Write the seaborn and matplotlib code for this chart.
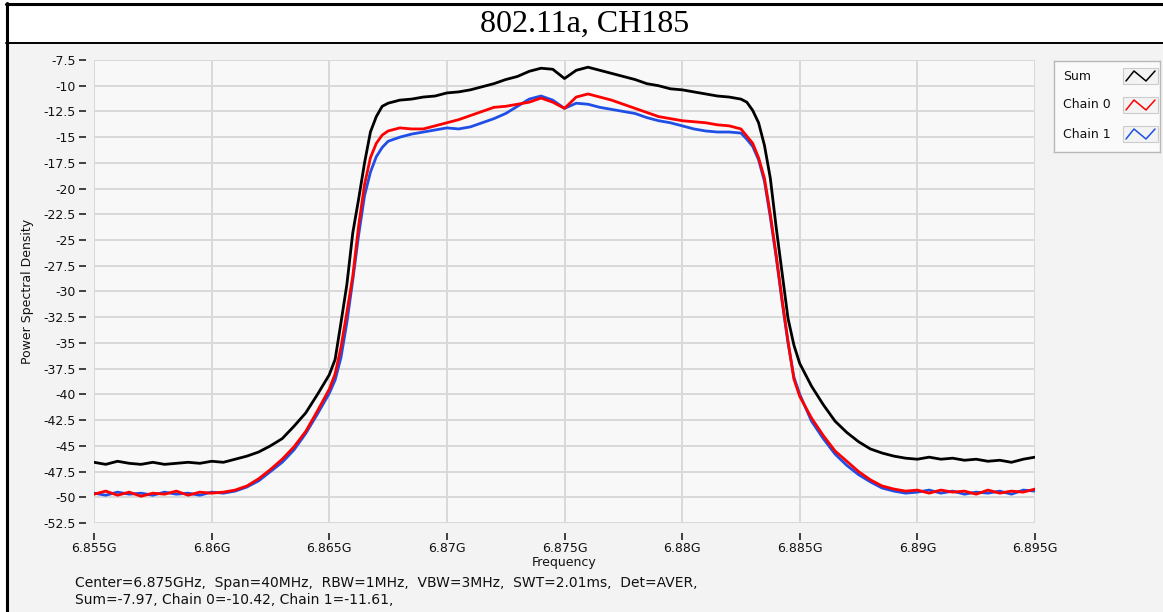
import numpy as np
import pandas as pd
import seaborn as sns
import matplotlib
matplotlib.use("Agg")
import matplotlib.pyplot as plt
from matplotlib.lines import Line2D
from matplotlib.patches import Rectangle

# ---------------- data ----------------
freq_mhz_offset = [0, 0.5, 1, 1.5, 2, 2.5, 3, 3.5, 4, 4.5, 5, 5.5, 6, 6.5, 7, 7.5, 8, 8.5, 9, 9.5,
                   10, 10.25, 10.5, 10.75, 11, 11.25, 11.5, 11.75, 12, 12.25, 12.5,
                   13, 13.5, 14, 14.5, 15, 15.5, 16, 16.5, 17, 17.5, 18, 18.5, 19, 19.5, 20,
                   20.5, 21, 21.5, 22, 22.5, 23, 23.5, 24, 24.5, 25, 25.5, 26, 26.5, 27, 27.5,
                   27.75, 28, 28.25, 28.5, 28.75, 29, 29.25, 29.5, 29.75, 30,
                   30.5, 31, 31.5, 32, 32.5, 33, 33.5, 34, 34.5, 35, 35.5, 36, 36.5, 37, 37.5,
                   38, 38.5, 39, 39.5, 40]
start_ghz = 6.855

sum_db = [-46.6, -46.8, -46.5, -46.7, -46.8, -46.6, -46.8, -46.7, -46.6, -46.7, -46.5, -46.6, -46.3,
          -46.0, -45.6, -45.0, -44.3, -43.1, -41.8, -40.0,
          -38.1, -36.6, -33.0, -29.3, -24.3, -21.0, -17.5, -14.5, -13.0, -12.0, -11.7,
          -11.4, -11.3, -11.1, -11.0, -10.7, -10.6, -10.4, -10.1, -9.8, -9.4, -9.1, -8.6, -8.3, -8.4, -9.3,
          -8.5, -8.2, -8.5, -8.8, -9.1, -9.4, -9.8, -10.0, -10.3, -10.4, -10.6, -10.8, -11.0, -11.1, -11.3,
          -11.6, -12.4, -13.6, -15.8, -19.0, -23.8, -28.2, -32.6, -35.2, -37.0,
          -39.2, -41.0, -42.6, -43.7, -44.6, -45.3, -45.7, -46.0, -46.2, -46.3, -46.1, -46.3, -46.2, -46.4, -46.3,
          -46.5, -46.4, -46.6, -46.3, -46.1]

chain0_db = [-49.7, -49.4, -49.8, -49.5, -49.9, -49.6, -49.7, -49.4, -49.8, -49.5, -49.6, -49.5, -49.3,
             -48.9, -48.2, -47.3, -46.3, -45.1, -43.6, -41.6,
             -39.5, -38.0, -35.4, -32.0, -28.5, -23.6, -19.6, -17.0, -15.6, -14.8, -14.4,
             -14.1, -14.2, -14.2, -13.9, -13.6, -13.3, -12.9, -12.5, -12.1, -12.0, -11.8, -11.6, -11.2, -11.6, -12.2,
             -11.1, -10.8, -11.1, -11.4, -11.8, -12.2, -12.6, -13.0, -13.2, -13.4, -13.5, -13.6, -13.8, -13.9, -14.2,
             -14.9, -15.6, -17.0, -19.0, -22.5, -26.5, -30.8, -34.8, -38.5, -40.2,
             -42.3, -44.0, -45.5, -46.5, -47.5, -48.3, -48.9, -49.2, -49.4, -49.3, -49.6, -49.3, -49.5, -49.4, -49.7,
             -49.3, -49.6, -49.4, -49.5, -49.2]

chain1_db = [-49.6, -49.8, -49.5, -49.7, -49.6, -49.8, -49.5, -49.7, -49.6, -49.8, -49.5, -49.6, -49.4,
             -49.0, -48.4, -47.5, -46.6, -45.4, -43.8, -41.9,
             -39.9, -38.6, -36.4, -33.0, -28.9, -24.5, -20.7, -18.4, -16.9, -16.0, -15.4,
             -15.0, -14.7, -14.5, -14.3, -14.1, -14.2, -14.0, -13.6, -13.2, -12.7, -12.0, -11.3, -11.0, -11.4, -12.2,
             -11.7, -11.8, -12.1, -12.3, -12.5, -12.7, -13.1, -13.4, -13.6, -13.9, -14.2, -14.4, -14.5, -14.5, -14.6,
             -15.2, -15.9, -17.2, -19.3, -22.8, -26.7, -31.0, -35.0, -38.3, -40.0,
             -42.6, -44.3, -45.8, -46.9, -47.8, -48.5, -49.1, -49.4, -49.6, -49.5, -49.3, -49.6, -49.4, -49.7, -49.5,
             -49.6, -49.4, -49.7, -49.3, -49.4]

series_names = ["Sum", "Chain 0", "Chain 1"]
series_colors = ["#000000", "#ff0000", "#1f4fe6"]

x_ticks = [6.855, 6.86, 6.865, 6.87, 6.875, 6.88, 6.885, 6.89, 6.895]
x_tick_labels = ["6.855G", "6.86G", "6.865G", "6.87G", "6.875G", "6.88G", "6.885G", "6.89G", "6.895G"]
y_ticks = [-7.5, -10, -12.5, -15, -17.5, -20, -22.5, -25, -27.5, -30, -32.5, -35, -37.5, -40,
           -42.5, -45, -47.5, -50, -52.5]
y_tick_labels = ["-7.5", "-10", "-12.5", "-15", "-17.5", "-20", "-22.5", "-25", "-27.5", "-30",
                 "-32.5", "-35", "-37.5", "-40", "-42.5", "-45", "-47.5", "-50", "-52.5"]

title = "802.11a, CH185"
footer_1 = "Center=6.875GHz,  Span=40MHz,  RBW=1MHz,  VBW=3MHz,  SWT=2.01ms,  Det=AVER,"
footer_2 = "Sum=-7.97, Chain 0=-10.42, Chain 1=-11.61,"

# ---------------- build data frame ----------------
freq_ghz = [start_ghz + m / 1000.0 for m in freq_mhz_offset]
frames = []
for name, vals in zip(series_names, [sum_db, chain0_db, chain1_db]):
    frames.append(pd.DataFrame({"Frequency": freq_ghz, "PSD": vals, "Trace": name}))
df = pd.concat(frames, ignore_index=True)

# ---------------- figure ----------------
sns.set_theme(style="white")
plt.rcParams["font.family"] = ["DejaVu Sans"]

W, H = 1163, 612
fig = plt.figure(figsize=(W / 100, H / 100), dpi=100)
fig.patch.set_facecolor("white")


def fx(px):
    return px / W


def fy(py):
    return 1 - py / H


# panel background below the title band
fig.add_artist(Rectangle((fx(7), 0), 1 - fx(7), fy(43), transform=fig.transFigure,
                         facecolor="#f3f3f3", edgecolor="none", zorder=0))
# frame lines
fig.add_artist(Line2D([fx(6.5), fx(6.5)], [0, fy(2.5)], transform=fig.transFigure, color="black", lw=2.2))
fig.add_artist(Line2D([fx(5.5), 1], [fy(3.5), fy(3.5)], transform=fig.transFigure, color="black", lw=2.2))
fig.add_artist(Line2D([fx(5.5), 1], [fy(42.5), fy(42.5)], transform=fig.transFigure, color="black", lw=1.4))

fig.text(fx(585), fy(24), title, ha="center", va="center", fontsize=23,
         family=["Liberation Serif", "DejaVu Serif"], color="black")

ax = fig.add_axes([fx(94), fy(523), fx(1035) - fx(94), fy(60) - fy(523)])
ax.set_facecolor("#f8f8f8")

palette = dict(zip(series_names, series_colors))
draw_order = ["Sum", "Chain 1", "Chain 0"]
for z, name in enumerate(draw_order):
    sns.lineplot(data=df[df["Trace"] == name], x="Frequency", y="PSD", color=palette[name],
                 lw=2.0, ax=ax, zorder=3 + z, legend=False, estimator=None, sort=False)

ax.set_xlim(6.855, 6.895)
ax.set_ylim(-52.5, -7.5)
ax.set_xticks(x_ticks)
ax.set_xticklabels(x_tick_labels)
ax.set_yticks(y_ticks)
ax.set_yticklabels(y_tick_labels)
ax.grid(True, color="#d9d9d9", lw=1.4, zorder=0)
ax.set_axisbelow(True)
for s in ax.spines.values():
    s.set_visible(False)
ax.spines["left"].set_position(("outward", 6))
ax.spines["bottom"].set_position(("outward", 7))
ax.tick_params(axis="both", which="major", direction="out", length=5, width=1.2,
               color="#222222", labelsize=9, labelcolor="#111111", pad=2)
ax.tick_params(axis="x", pad=2)
ax.tick_params(axis="y", left=True)
ax.tick_params(axis="x", bottom=True)

ax.set_xlabel("Frequency", fontsize=9, color="#111111")
ax.set_ylabel("Power Spectral Density", fontsize=9, color="#111111")
ax.xaxis.set_label_coords(0.5, -0.071)
ax.yaxis.set_label_coords(-0.064, 0.5)

fig.text(fx(75), fy(583), footer_1, ha="left", va="center", fontsize=10, color="#111111")
fig.text(fx(75), fy(600), footer_2, ha="left", va="center", fontsize=10, color="#111111")

# ---------------- legend (drawn as a small panel) ----------------
lax = fig.add_axes([fx(1054), fy(152), fx(1160) - fx(1054), fy(61) - fy(152)])
lax.set_xlim(0, 106)
lax.set_ylim(91, 0)
lax.set_xticks([])
lax.set_yticks([])
lax.set_facecolor("#fafafa")
for s in lax.spines.values():
    s.set_edgecolor("#b8b8b8")
    s.set_linewidth(1.0)
row_y = [15, 44, 73]
for name, color, ry in zip(series_names, series_colors, row_y):
    lax.text(9, ry, name, ha="left", va="center", fontsize=9, color="#111111")
    lax.add_patch(Rectangle((69, ry - 8), 35, 16, facecolor="#f3f3f3", edgecolor="#cccccc", lw=0.8))
    lax.add_line(Line2D([72, 80, 92, 101], [ry + 5, ry - 5, ry + 5, ry - 5], color=color, lw=1.1))

fig.savefig("out.png", dpi=100)
